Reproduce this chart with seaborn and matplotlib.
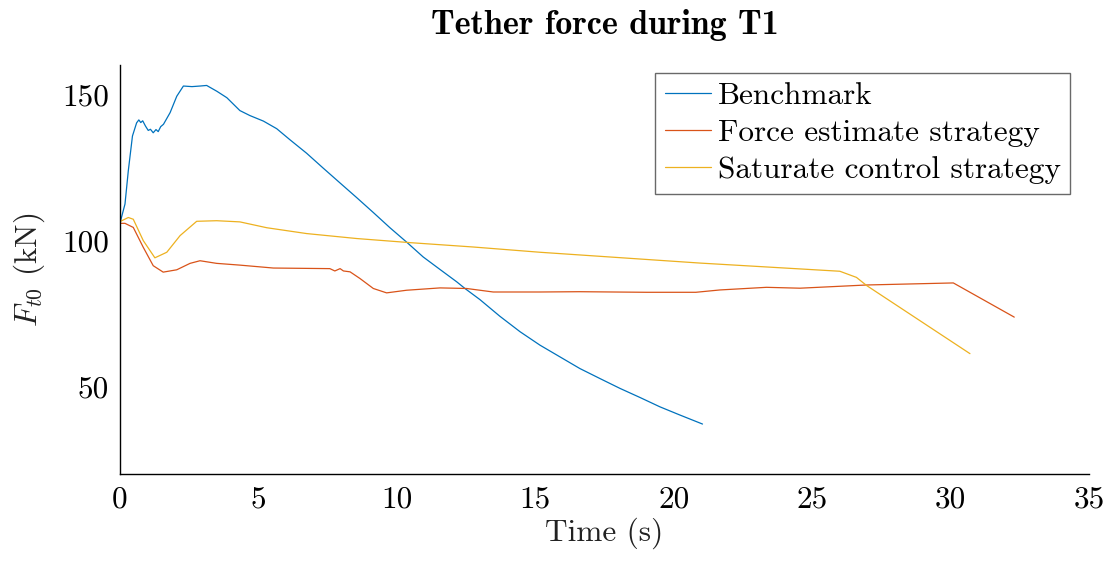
import numpy as np
import pandas as pd
import matplotlib
matplotlib.use("Agg")
import matplotlib.pyplot as plt
import seaborn as sns

# ---- data ----
bench_t = [0, 0.18, 0.3, 0.45, 0.6, 0.68, 0.75, 0.82, 0.92, 1.02, 1.1, 1.2, 1.3, 1.38, 1.47, 1.57, 1.81,
           2.05, 2.29, 2.6, 2.89, 3.13, 3.5, 3.86, 4.33, 4.69, 5.18, 5.66, 6.14, 6.74, 7.34, 7.95,
           8.55, 9.15, 9.75, 10.35, 10.95, 11.56, 12.16, 12.46, 13.0, 13.72, 14.45, 15.17, 15.89, 16.61,
           17.33, 18.06, 18.78, 19.5, 20.22, 21.04]
bench_F = [105.9, 112.4, 123.8, 135.7, 140.2, 141.2, 140.3, 140.9, 139.1, 137.6, 138.0, 136.8, 137.9, 137.2, 138.9, 139.7, 143.7,
           149.3, 152.8, 152.6, 152.8, 153.0, 151.0, 148.8, 144.4, 142.7, 140.8, 138.2, 134.4, 129.8, 124.7, 119.6,
           114.6, 109.5, 104.3, 99.4, 94.3, 90.0, 85.8, 83.5, 79.7, 74.0, 68.7, 64.1, 60.1, 56.1,
           52.7, 49.3, 46.2, 43.0, 40.2, 37.1]

force_t = [0, 0.18, 0.48, 0.84, 1.2, 1.56, 2.05, 2.53, 2.89, 3.49, 4.33, 5.54, 7.58, 7.76, 7.95, 8.07,
           8.31, 8.67, 9.15, 9.63, 10.35, 11.56, 12.52, 13.48, 15.17, 16.6, 19.02,
           20.8, 21.67, 23.35, 24.56, 26.97, 30.1, 32.3]
force_F = [105.8, 105.8, 104.4, 97.6, 91.3, 89.1, 89.9, 92.1, 93.0, 92.1, 91.5, 90.5, 90.3, 89.5, 90.3, 89.5,
           89.2, 86.9, 83.5, 82.0, 82.9, 83.7, 83.5, 82.3, 82.3, 82.4, 82.2,
           82.2, 83.0, 83.9, 83.6, 84.7, 85.4, 73.7]

sat_t = [0, 0.3, 0.48, 0.84, 1.26, 1.69, 2.17, 2.77, 3.49, 4.33, 5.3, 6.74, 8.55, 10.47, 12.76, 15.17,
         20.95, 26.0, 26.6, 26.97, 30.7]
sat_F = [106.4, 107.8, 107.2, 99.9, 94.0, 95.9, 101.6, 106.5, 106.7, 106.3, 104.3, 102.3, 100.6, 99.2, 97.7, 95.9,
         92.2, 89.4, 87.3, 84.5, 61.2]

series_names = ["Benchmark", "Force estimate strategy", "Saturate control strategy"]
colors = ["#0072BD", "#D95319", "#EDB120"]
x_ticks = [0, 5, 10, 15, 20, 25, 30, 35]
y_ticks = [50, 100, 150]

sns.set_style("white")
plt.rcParams["font.family"] = ["cmr10", "DejaVu Sans"]
plt.rcParams["mathtext.fontset"] = "cm"
plt.rcParams["axes.formatter.use_mathtext"] = True
plt.rcParams["axes.unicode_minus"] = False

fig = plt.figure(figsize=(11.09, 5.61), dpi=100)
ax = fig.add_axes([120 / 1109, 1 - 474 / 561, (1089 - 120) / 1109, (474 - 65) / 561])

for name, t, F, c in zip(series_names, [bench_t, force_t, sat_t], [bench_F, force_F, sat_F], colors):
    sns.lineplot(x=t, y=F, ax=ax, color=c, lw=0.9, label=name, sort=False, estimator=None)

ax.set_xlim(0, 35)
ax.set_ylim(20, 160)
ax.set_xticks(x_ticks)
ax.set_yticks(y_ticks)
ax.set_xticklabels([str(v) for v in x_ticks])
ax.set_yticklabels([str(v) for v in y_ticks])

fs = 22.5
ax.tick_params(axis="both", direction="in", length=7.5, width=0.9, color="#999999",
               labelsize=fs, labelcolor="black", pad=8)
for s in ["top", "right"]:
    ax.spines[s].set_visible(False)
for s in ["left", "bottom"]:
    ax.spines[s].set_color("black")
    ax.spines[s].set_linewidth(1.0)

ax.set_xlabel("Time (s)", fontsize=fs, color="#222222", labelpad=3)
ax.set_ylabel(r"$F_{t0}$ (kN)", fontsize=fs, color="#222222", labelpad=11)
ax.set_title("Tether force during T1", fontsize=24.5, fontfamily="cmb10", pad=22, color="black")

leg = ax.legend(loc="upper right", bbox_to_anchor=(1070 / 1109, 1 - 73 / 561),
                bbox_transform=fig.transFigure, borderaxespad=0, fancybox=False,
                frameon=True, edgecolor="#444444", fontsize=fs, handlelength=1.5,
                handletextpad=0.2, borderpad=0.3, labelspacing=0.29)
leg.get_frame().set_linewidth(1.0)
for line in leg.get_lines():
    line.set_linewidth(0.9)
for txt in leg.get_texts():
    txt.set_color("black")

fig.savefig("out.png", dpi=100)
